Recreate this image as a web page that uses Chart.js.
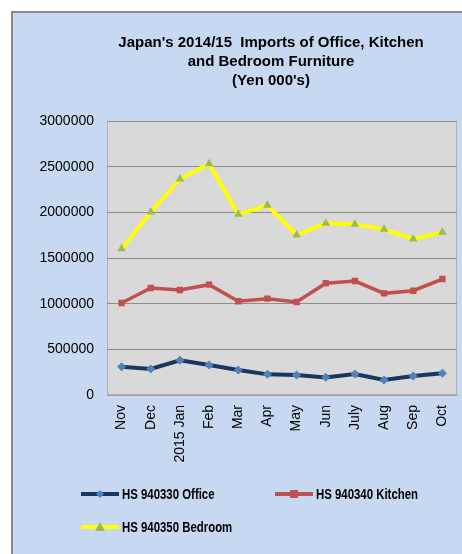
<!DOCTYPE html>
<html>
<head>
<meta charset="utf-8">
<script src="https://cdn.jsdelivr.net/npm/chart.js@4"></script>
<style>
  html, body { margin: 0; padding: 0; background: #fff; }
  #wrap { width: 462px; height: 554px; position: relative; }
</style>
</head>
<body>
<div id="wrap"><canvas id="furnChart" width="462" height="554"></canvas></div>
<script>
// months on the x axis
const months = ['Nov', 'Dec', '2015 Jan', 'Feb', 'Mar', 'Apr', 'May', 'Jun', 'July', 'Aug', 'Sep', 'Oct'];

// series values (yen 000's)
const office = [310000, 285000, 380000, 328000, 274000, 226000, 219000, 193000, 230000, 164000, 208000, 238000];
const kitchen = [1007000, 1171000, 1150000, 1208000, 1026000, 1055000, 1018000, 1223000, 1248000, 1113000, 1142000, 1270000];
const bedroom = [1600000, 2004000, 2365000, 2533000, 1978000, 2077000, 1752000, 1880000, 1869000, 1814000, 1708000, 1781000];

const seriesNames = ['HS 940330 Office', 'HS 940340 Kitchen', 'HS 940350 Bedroom'];
const titleLines = ["Japan's 2014/15  Imports of Office, Kitchen", 'and Bedroom Furniture', "(Yen 000's)"];
const yTicks = [0, 500000, 1000000, 1500000, 2000000, 2500000, 3000000];

const legendFont = 'bold 15px "Liberation Sans", Arial, sans-serif';

// background box, plot fill, title and legend
const framePlugin = {
    id: 'frame',
    beforeDraw(chart) {
        const c = chart.ctx;
        const a = chart.chartArea;
        c.save();
        c.fillStyle = '#ffffff';
        c.fillRect(0, 0, chart.width, chart.height);
        c.fillStyle = '#c6d9f1';
        c.fillRect(12, 12, chart.width - 12, chart.height - 12);
        c.strokeStyle = '#888888';
        c.lineWidth = 2;
        c.beginPath();
        c.moveTo(12, chart.height);
        c.lineTo(12, 12);
        c.lineTo(chart.width, 12);
        c.stroke();
        c.fillStyle = '#d9d9d9';
        c.fillRect(a.left, a.top, a.right - a.left, a.bottom - a.top);
        c.strokeStyle = '#b0b0b0';
        c.lineWidth = 1;
        c.strokeRect(a.left + 0.5, a.top + 0.5, a.right - a.left - 1, a.bottom - a.top - 1);
        c.restore();
    },
    afterDraw(chart) {
        const c = chart.ctx;
        c.save();
        c.fillStyle = '#000';
        c.font = 'bold 15px "Liberation Sans", Arial, sans-serif';
        c.textAlign = 'center';
        c.textBaseline = 'middle';
        titleLines.forEach((t, i) => c.fillText(t, 271, 43 + i * 19));

        // legend, two columns
        const spots = [[81, 494], [275, 494], [81, 527]];
        chart.data.datasets.forEach((ds, i) => {
            const [x, y] = spots[i];
            c.strokeStyle = ds.borderColor;
            c.lineWidth = 4;
            c.beginPath();
            c.moveTo(x, y);
            c.lineTo(x + 38, y);
            c.stroke();
            c.fillStyle = ds.pointBackgroundColor;
            const px = x + 19;
            if (ds.pointStyle === 'rectRot') {
                c.beginPath();
                c.moveTo(px, y - 4); c.lineTo(px + 4, y); c.lineTo(px, y + 4); c.lineTo(px - 4, y);
                c.closePath(); c.fill();
            } else if (ds.pointStyle === 'rect') {
                c.fillRect(px - 4, y - 4, 8, 8);
            } else {
                c.beginPath();
                c.moveTo(px, y - 5); c.lineTo(px + 5, y + 4); c.lineTo(px - 5, y + 4);
                c.closePath(); c.fill();
            }
            // narrow the label a bit, the original uses a condensed face
            c.save();
            c.translate(x + 41, y + 1);
            c.scale(0.76, 1);
            c.fillStyle = '#000';
            c.font = legendFont;
            c.textAlign = 'left';
            c.textBaseline = 'middle';
            c.fillText(ds.label, 0, 0);
            c.restore();
        });
        c.restore();
    }
};

const ctx = document.getElementById('furnChart').getContext('2d');
const furnChart = new Chart(ctx, {
    type: 'line',
    data: {
        labels: months,
        datasets: [{
            label: seriesNames[0],
            data: office,
            borderColor: '#17375e',
            borderWidth: 4,
            pointStyle: 'rectRot',
            pointRadius: 4.5,
            pointBackgroundColor: '#4f81bd',
            pointBorderWidth: 0
        },
        {
            label: seriesNames[1],
            data: kitchen,
            borderColor: '#c0504d',
            borderWidth: 3.5,
            pointStyle: 'rect',
            pointRadius: 4.5,
            pointBackgroundColor: '#c0504d',
            pointBorderWidth: 0
        },
        {
            label: seriesNames[2],
            data: bedroom,
            borderColor: '#ffff00',
            borderWidth: 4,
            pointStyle: 'triangle',
            pointRadius: 5,
            pointBackgroundColor: '#9bbb59',
            pointBorderWidth: 0
        }]
    },
    options: {
        responsive: false,
        animation: false,
        layout: { padding: { top: 121, right: 4, left: 0, bottom: 0 } },
        scales: {
            x: {
                offset: true,
                grid: { display: false, drawTicks: false },
                border: { color: '#a0a0a0', width: 1 },
                ticks: {
                    color: '#000',
                    font: { family: '"Liberation Sans", Arial, sans-serif', size: 14 },
                    minRotation: 90,
                    maxRotation: 90,
                    autoSkip: false,
                    padding: 10
                },
                afterFit(scale) {
                    scale.height = 159;
                    scale.paddingLeft = 0;
                    scale.paddingRight = 0;
                }
            },
            y: {
                min: 0,
                max: 3000000,
                afterBuildTicks(scale) { scale.ticks = yTicks.map(v => ({ value: v })); },
                grid: { color: '#8c8c8c', lineWidth: 1, drawTicks: false },
                border: { display: false },
                ticks: {
                    color: '#000',
                    font: { family: '"Liberation Sans", Arial, sans-serif', size: 14 },
                    padding: 13,
                    callback: function (value) { return String(value); }
                },
                afterFit(scale) {
                    scale.width = 107;
                    scale.paddingTop = 0;
                    scale.paddingBottom = 0;
                }
            }
        },
        plugins: {
            legend: { display: false },
            title: { display: false },
            tooltip: { enabled: false }
        }
    },
    plugins: [framePlugin]
});
</script>
</body>
</html>
